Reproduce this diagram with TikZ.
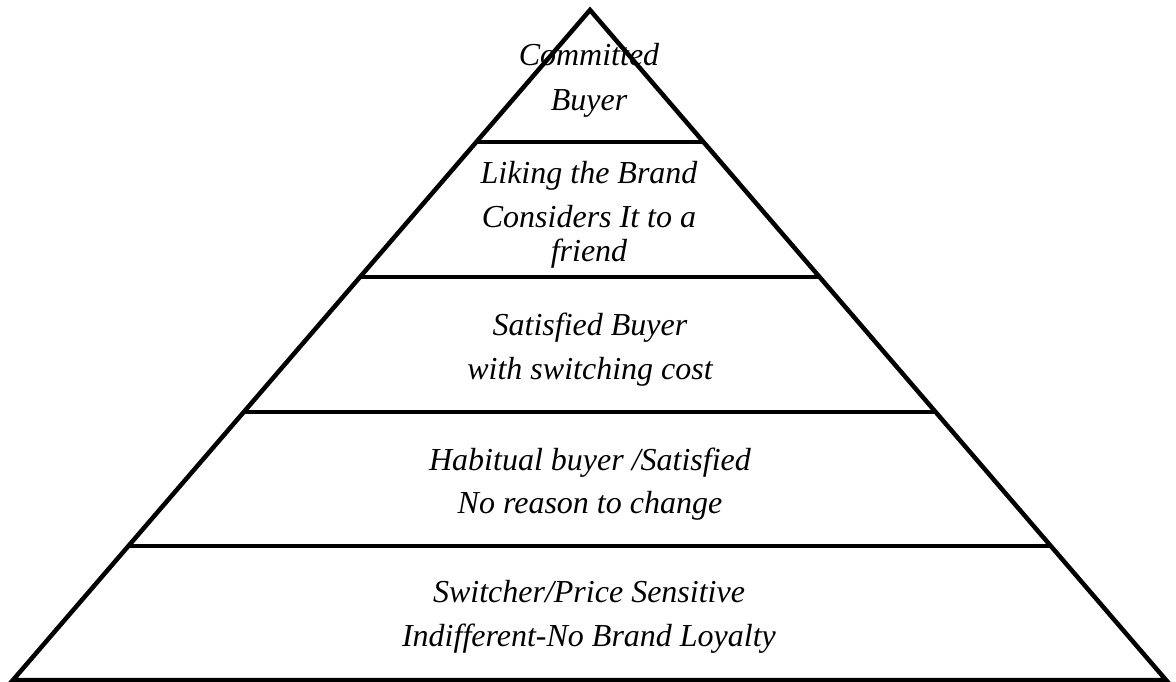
\documentclass[tikz,border=0pt]{standalone}
\usepackage{fontspec}
\setmainfont{Liberation Serif}
\begin{document}
\begin{tikzpicture}[x=1pt,y=-1pt,
  edge/.style={line width=4.5pt,line join=miter},
  tier/.style={line width=4pt},
  lbl/.style={font=\fontsize{32}{44}\selectfont\itshape,inner sep=0pt,anchor=base}]
\useasboundingbox (0,0) rectangle (1176,682);
% outline of the pyramid
\coordinate (apex) at (590,10);
\coordinate (bl) at (13,680);
\coordinate (br) at (1166,680);
% tier labels, one node per line, placed by baseline
\node[lbl] (t1a) at (589,66)  {Committed};
\node[lbl] (t1b) at (589,111) {Buyer};
\node[lbl] (t2a) at (589,183) {Liking the Brand};
\node[lbl] (t2b) at (589,227) {Considers It to a};
\node[lbl] (t2c) at (589,261) {friend};
\node[lbl] (t3a) at (590,335) {Satisfied Buyer};
\node[lbl] (t3b) at (590,379) {with switching cost};
\node[lbl] (t4a) at (590,470) {Habitual buyer /Satisfied};
\node[lbl] (t4b) at (590,513) {No reason to change};
\node[lbl] (t5a) at (589,602) {Switcher/Price Sensitive};
\node[lbl] (t5b) at (589,646) {Indifferent-No Brand Loyalty};
\draw[edge] (bl) -- (apex) -- (br) -- cycle;
% tier separators, each running between the two slanted sides
\foreach \n/\y in {a/142,b/277,c/412,d/546}{
  \path (apex) -- (bl) coordinate[pos={(\y-10)/670}] (L\n);
  \path (apex) -- (br) coordinate[pos={(\y-10)/670}] (R\n);
  \draw[tier] (L\n) -- (R\n);
}
\end{tikzpicture}
\end{document}
